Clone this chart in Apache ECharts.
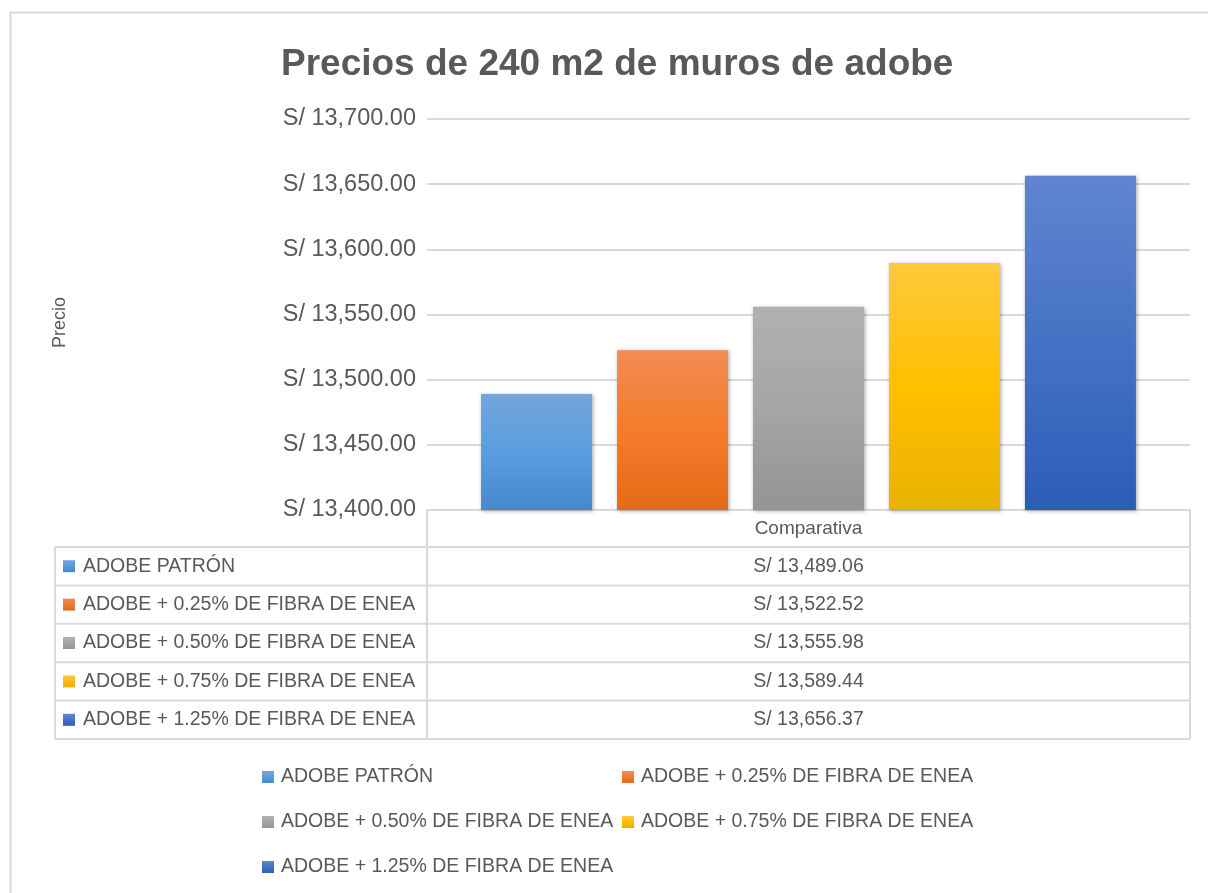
<!DOCTYPE html>
<html>
<head>
<meta charset="utf-8">
<script src="https://cdn.jsdelivr.net/npm/echarts@6/dist/echarts.min.js"></script>
<style>
  html, body { margin: 0; padding: 0; background: #fff; }
  #chart { width: 1208px; height: 893px; }
</style>
</head>
<body>
<div id="chart"></div>
<script>
// datos del gráfico
const seriesNames = [
  'ADOBE PATRÓN',
  'ADOBE + 0.25% DE FIBRA DE ENEA',
  'ADOBE + 0.50% DE FIBRA DE ENEA',
  'ADOBE + 0.75% DE FIBRA DE ENEA',
  'ADOBE + 1.25% DE FIBRA DE ENEA'
];
const prices = [13489.06, 13522.52, 13555.98, 13589.44, 13656.37];
const category = ['Comparativa'];
const yMin = 13400;
const yMax = 13700;
const yStep = 50;

// colores degradados (arriba, medio, abajo)
const gradients = [
  ['#72a6db', '#5a9de0', '#4489cb'],
  ['#f18c55', '#f47c2a', '#e46b18'],
  ['#b1b1b1', '#a5a5a5', '#949494'],
  ['#ffc93c', '#ffc000', '#e8b100'],
  ['#6185cf', '#4472c4', '#2c5db7']
];

const fmt = v => 'S/ ' + v.toLocaleString('en-US', { minimumFractionDigits: 2, maximumFractionDigits: 2 });

const textColor = '#595959';
const lineColor = '#d9d9d9';
const fontFamily = '"Liberation Sans", Arial, sans-serif';

const gridLeft = 427, gridTop = 119, gridWidth = 763, gridHeight = 391;
const tableLeft = 55, headerH = 37, rowH = 38.4;

const chart = echarts.init(document.getElementById('chart'));

const series = seriesNames.map((name, i) => ({
  name: name,
  type: 'bar',
  barWidth: 111,
  barGap: '22.5%',
  data: [prices[i]],
  itemStyle: {
    color: new echarts.graphic.LinearGradient(0, 0, 0, 1, [
      { offset: 0, color: gradients[i][0] },
      { offset: 0.5, color: gradients[i][1] },
      { offset: 1, color: gradients[i][2] }
    ]),
    shadowBlur: 4,
    shadowColor: 'rgba(0,0,0,0.35)',
    shadowOffsetX: 1,
    shadowOffsetY: 1
  }
}));

// tabla de datos debajo del eje
const tableBottom = gridTop + gridHeight + headerH + rowH * seriesNames.length;
const graphic = [
  {
    type: 'rect',
    shape: { x: 10.5, y: 12.5, width: 1220, height: 900 },
    style: { fill: 'none', stroke: lineColor, lineWidth: 2 },
    silent: true
  },
  {
    type: 'text',
    x: gridLeft + gridWidth / 2,
    y: gridTop + gridHeight + headerH / 2,
    style: { text: category[0], fill: textColor, font: '19px ' + fontFamily, align: 'center', verticalAlign: 'middle' }
  },
  {
    type: 'line',
    shape: { x1: gridLeft, y1: gridTop + gridHeight, x2: gridLeft, y2: tableBottom },
    style: { stroke: lineColor, lineWidth: 2 }
  },
  {
    type: 'line',
    shape: { x1: gridLeft + gridWidth, y1: gridTop + gridHeight, x2: gridLeft + gridWidth, y2: tableBottom },
    style: { stroke: lineColor, lineWidth: 2 }
  },
  {
    type: 'line',
    shape: { x1: tableLeft, y1: gridTop + gridHeight + headerH, x2: tableLeft, y2: tableBottom },
    style: { stroke: lineColor, lineWidth: 2 }
  }
];
seriesNames.forEach((name, i) => {
  const y0 = gridTop + gridHeight + headerH + rowH * i;
  graphic.push({
    type: 'line',
    shape: { x1: tableLeft, y1: y0, x2: gridLeft + gridWidth, y2: y0 },
    style: { stroke: lineColor, lineWidth: 2 }
  });
  graphic.push({
    type: 'rect',
    shape: { x: tableLeft + 8, y: y0 + rowH / 2 - 6, width: 12, height: 12 },
    style: {
      fill: new echarts.graphic.LinearGradient(0, 0, 0, 1, [
        { offset: 0, color: gradients[i][0] },
        { offset: 1, color: gradients[i][2] }
      ])
    }
  });
  graphic.push({
    type: 'text',
    x: tableLeft + 28,
    y: y0 + rowH / 2,
    style: { text: name, fill: textColor, font: '19.5px ' + fontFamily, verticalAlign: 'middle' }
  });
  graphic.push({
    type: 'text',
    x: gridLeft + gridWidth / 2,
    y: y0 + rowH / 2,
    style: { text: fmt(prices[i]), fill: textColor, font: '19.5px ' + fontFamily, align: 'center', verticalAlign: 'middle' }
  });
});
graphic.push({
  type: 'line',
  shape: { x1: tableLeft, y1: tableBottom, x2: gridLeft + gridWidth, y2: tableBottom },
  style: { stroke: lineColor, lineWidth: 2 }
});

// leyenda en dos columnas
const legend = seriesNames.map((name, i) => ({
  data: [name],
  left: i % 2 === 0 ? 262 : 622,
  top: 767 + Math.floor(i / 2) * 45,
  padding: 0,
  itemWidth: 12,
  itemHeight: 12,
  itemGap: 6,
  icon: 'rect',
  textStyle: { color: textColor, fontSize: 19.5, fontFamily: fontFamily, padding: [0, 0, 0, 2] },
  selectedMode: false
}));

const option = {
  animation: false,
  textStyle: { fontFamily: fontFamily },
  title: {
    text: 'Precios de 240 m2 de muros de adobe',
    left: 276,
    top: 41,
    textStyle: { fontSize: 37, fontWeight: 'bold', color: textColor, fontFamily: fontFamily }
  },
  grid: { left: gridLeft, top: gridTop, width: gridWidth, height: gridHeight, containLabel: false },
  legend: legend,
  xAxis: {
    type: 'category',
    data: category,
    axisLine: { show: true, lineStyle: { color: lineColor, width: 2 } },
    axisTick: { show: false },
    axisLabel: { show: false }
  },
  yAxis: {
    type: 'value',
    min: yMin,
    max: yMax,
    interval: yStep,
    name: 'Precio',
    nameLocation: 'middle',
    nameGap: 358,
    nameRotate: 90,
    nameTextStyle: { color: textColor, fontSize: 18, fontFamily: fontFamily, padding: [0, 16, 0, 0] },
    axisLine: { show: false },
    axisTick: { show: false },
    axisLabel: { color: textColor, fontSize: 23.5, margin: 11, formatter: v => fmt(v) },
    splitLine: { lineStyle: { color: lineColor, width: 2 } }
  },
  graphic: graphic,
  series: series
};

chart.setOption(option);
</script>
</body>
</html>
